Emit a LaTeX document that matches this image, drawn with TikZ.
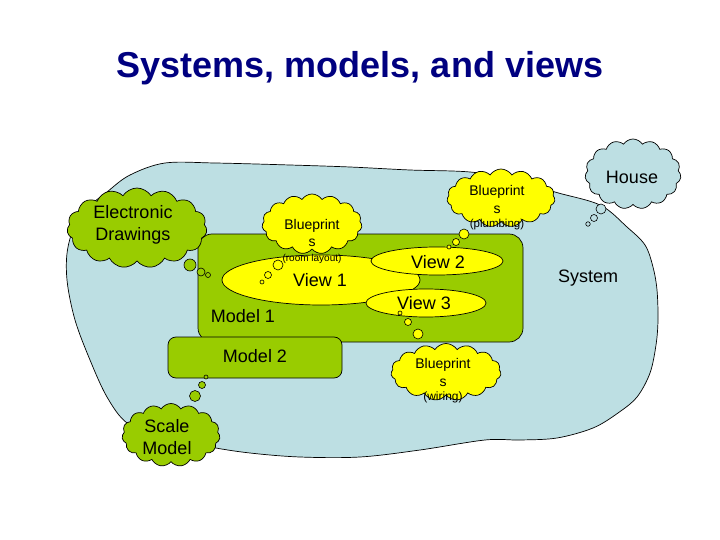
\documentclass[tikz,border=0pt]{standalone}
\usepackage{fontspec}
\setmainfont{Liberation Sans}
\usetikzlibrary{shapes.symbols,shapes.geometric}
\definecolor{sysblue}{RGB}{189,223,227}
\definecolor{modgreen}{RGB}{153,204,0}
\definecolor{viewyellow}{RGB}{255,255,0}
\definecolor{titleblue}{RGB}{0,0,128}
\begin{document}
\begin{tikzpicture}[x=1pt,y=-1pt,
  outline/.style={draw=black,line width=0.7pt},
  thought/.style={outline,cloud,cloud puffs=15,cloud puff arc=115,cloud ignores aspect,inner sep=0pt},
  bubble/.style={outline,circle,inner sep=0pt,line width=0.6pt},
  modelbox/.style={outline,fill=modgreen,rounded corners=14pt},
  viewell/.style={outline,fill=viewyellow,ellipse,inner sep=0pt},
  big/.style={font=\fontsize{18}{22}\selectfont,align=center,inner sep=0pt},
  bp/.style={font=\fontsize{14}{17.5}\selectfont,align=center,inner sep=0pt},
]
\useasboundingbox (0,0) rectangle (720,540);

% title
\node[font=\bfseries\fontsize{36}{40}\selectfont,text=titleblue] (title) at (360,68) {Systems, models, and views};

% system blob
\draw[outline,fill=sysblue] plot[smooth cycle,tension=0.55] coordinates {
 (107,192) (130,175) (165,163) (215,163) (290,165) (350,167) (410,170)
 (470,172) (520,180) (555,192) (600,205) (627,227) (645,245) (653,267)
 (657,290) (658,320) (656,345) (650,373) (637,397) (618,413) (593,428)
 (557,438) (520,440) (485,440) (420,450) (360,457) (300,457) (250,453)
 (210,447) (160,437) (127,423) (107,397) (90,360) (75,320) (67,280)
 (68,247) (80,215)};
\node[big] (system) at (588,278) {System};

% models
\draw[modelbox] (198,234) rectangle (523,342);
\node[big] (model1) at (243,316) {Model 1};
\draw[modelbox,rounded corners=8pt] (168,337) rectangle (342,378);
\node[big] (model2) at (255,356) {Model 2};

% clouds
\node[thought,fill=modgreen,minimum width=140pt,minimum height=80pt] (ed) at (137,228) {};
\node[big] (edt) at (133,225) {Electronic\\Drawings};

\node[thought,fill=viewyellow,minimum width=100pt,minimum height=60pt] (rl) at (312,224) {};

% views
\node[viewell,minimum width=198pt,minimum height=50pt] (v1) at (321,280) {};
\node[big] (v1t) at (320,280) {View 1};
\node[viewell,minimum width=132pt,minimum height=28pt] (v2) at (437,261) {};
\node[big] (v2t) at (438,262) {View 2};
\node[viewell,minimum width=120pt,minimum height=28pt] (v3) at (426,303) {};
\node[big] (v3t) at (424,303) {View 3};

\node[bp] (rlt) at (312,241) {Blueprint\\s\\[-3pt]{\fontsize{10}{12}\selectfont (room layout)}};

\node[thought,fill=viewyellow,minimum width=108pt,minimum height=58pt] (pl) at (501,198) {};
\node[bp] (plt) at (497,208) {Blueprint\\s\\[-3pt]{\fontsize{11.5}{13}\selectfont (plumbing)}};

\node[thought,fill=sysblue,minimum width=96pt,minimum height=70pt] (house) at (633,174) {};
\node[big] (houset) at (632,177) {House};

\node[thought,fill=viewyellow,minimum width=110pt,minimum height=57pt] (wi) at (446,372) {};
\node[bp] (wit) at (443,381) {Blueprint\\s\\[-3pt]{\fontsize{12}{13}\selectfont (wiring)}};

\node[thought,fill=modgreen,minimum width=98pt,minimum height=63pt] (sm) at (171,435) {};
\node[big] (smt) at (167,437) {Scale\\Model};

% thought bubbles
\node[bubble,fill=modgreen,minimum size=12pt] (eb1) at (190,265) {};
\node[bubble,fill=modgreen,minimum size=8pt] (eb2) at (201,272) {};
\node[bubble,fill=modgreen,minimum size=5pt] (eb3) at (208,275) {};

\node[bubble,fill=viewyellow,minimum size=10pt] (rb1) at (278,265) {};
\node[bubble,fill=viewyellow,minimum size=7pt] (rb2) at (268,275) {};
\node[bubble,fill=viewyellow,minimum size=4pt] (rb3) at (262,282) {};

\node[bubble,fill=viewyellow,minimum size=10pt] (pb1) at (464,234) {};
\node[bubble,fill=viewyellow,minimum size=7pt] (pb2) at (456,242) {};
\node[bubble,fill=viewyellow,minimum size=4pt] (pb3) at (449,247) {};

\node[bubble,fill=sysblue,minimum size=10pt] (hb1) at (601,209) {};
\node[bubble,fill=sysblue,minimum size=7pt] (hb2) at (594,218) {};
\node[bubble,fill=sysblue,minimum size=4.5pt] (hb3) at (588,224) {};

\node[bubble,fill=viewyellow,minimum size=4pt] (wb3) at (400,313) {};
\node[bubble,fill=viewyellow,minimum size=7pt] (wb2) at (408,322) {};
\node[bubble,fill=viewyellow,minimum size=10pt] (wb1) at (418,334) {};

\node[bubble,fill=modgreen,minimum size=11pt] (sb1) at (195,396) {};
\node[bubble,fill=modgreen,minimum size=7pt] (sb2) at (202,385) {};
\node[bubble,fill=modgreen,minimum size=4pt] (sb3) at (206,377) {};
\end{tikzpicture}
\end{document}
